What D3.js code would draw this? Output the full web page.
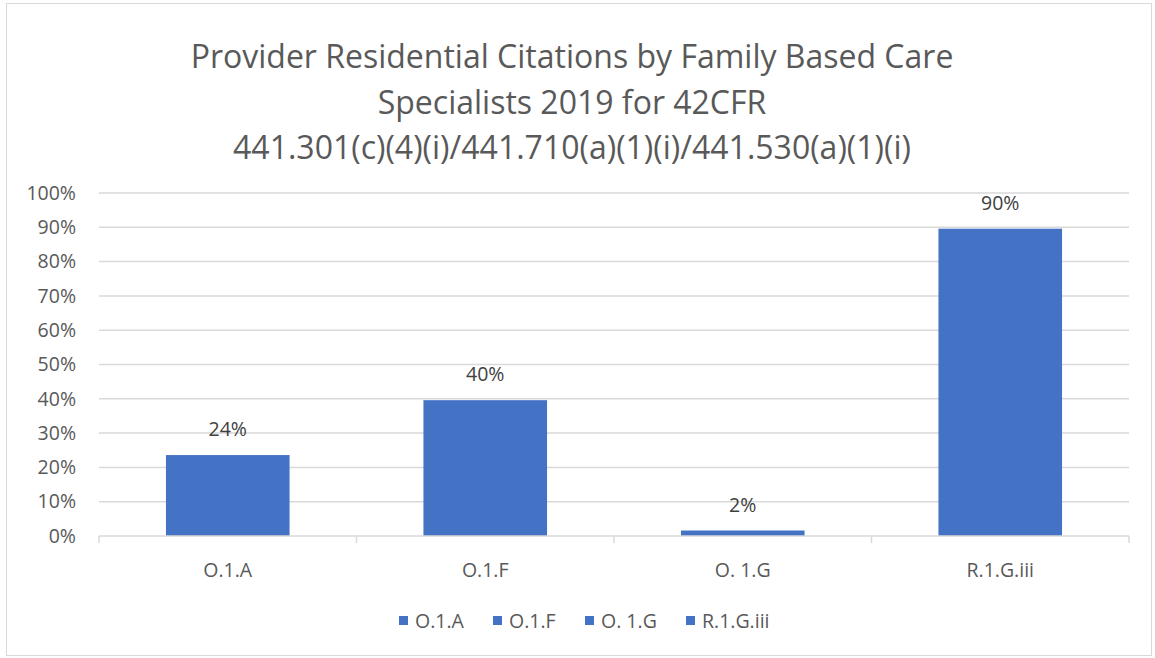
<!DOCTYPE html>
<html>
<head>
<meta charset="utf-8">
<script src="https://cdn.jsdelivr.net/npm/d3@7"></script>
<style>
  body { margin: 0; background: #fff; }
  svg { display: block; font-family: "Open Sans", "Noto Sans", sans-serif; }
</style>
</head>
<body>
<div id="chart"></div>
<script>
const categories = ["O.1.A", "O.1.F", "O. 1.G", "R.1.G.iii"]
const values = [0.236, 0.396, 0.016, 0.896]
const yTicks = [0, 0.1, 0.2, 0.3, 0.4, 0.5, 0.6, 0.7, 0.8, 0.9, 1.0]
const titleLines = [
  "Provider Residential Citations by Family Based Care",
  "Specialists 2019 for 42CFR",
  "441.301(c)(4)(i)/441.710(a)(1)(i)/441.530(a)(1)(i)"
]

const width = 1155
const height = 658
const margin = { top: 193, right: 26, bottom: 122, left: 99 }
const barColor = "#4472C4"

const svg = d3.select("#chart")
  .append("svg")
  .attr("width", width)
  .attr("height", height)

// chart frame
svg.append("rect")
  .attr("x", 6.5).attr("y", 3.5)
  .attr("width", width - 10).attr("height", height - 6)
  .attr("fill", "#fff")
  .attr("stroke", "#d9d9d9")
  .attr("stroke-width", 1)

// title
svg.append("g")
  .selectAll("text")
  .data(titleLines)
  .join("text")
  .attr("x", 572)
  .attr("y", (d, i) => 68 + i * 45.5)
  .attr("text-anchor", "middle")
  .attr("font-size", "32px")
  .attr("fill", "#595959")
  .text(d => d)

const x = d3.scaleBand()
  .domain(categories)
  .range([margin.left, width - margin.right])
  .paddingInner(0.52)
  .paddingOuter(0.26)

const y = d3.scaleLinear()
  .domain([0, 1])
  .range([height - margin.bottom, margin.top])

// gridlines
svg.append("g")
  .selectAll("line")
  .data(yTicks.slice(1))
  .join("line")
  .attr("x1", margin.left)
  .attr("x2", width - margin.right)
  .attr("y1", d => y(d))
  .attr("y2", d => y(d))
  .attr("stroke", "#d9d9d9")
  .attr("stroke-width", 1.5)

// y axis labels
const yAxis = d3.axisLeft(y)
  .tickValues(yTicks)
  .tickFormat(d3.format(".0%"))
  .tickSize(0)
  .tickPadding(23)

svg.append("g")
  .attr("transform", `translate(${margin.left},0)`)
  .call(yAxis)
  .call(g => g.select(".domain").remove())
  .call(g => g.selectAll("text")
    .attr("font-size", "19.5px")
    .attr("font-family", "'Open Sans', 'Noto Sans', sans-serif")
    .attr("fill", "#595959"))

// bars
svg.append("g")
  .selectAll("rect")
  .data(values)
  .join("rect")
  .attr("x", (d, i) => x(categories[i]))
  .attr("y", d => y(d))
  .attr("width", x.bandwidth())
  .attr("height", d => y(0) - y(d))
  .attr("fill", barColor)

// value labels
svg.append("g")
  .selectAll("text")
  .data(values)
  .join("text")
  .attr("x", (d, i) => x(categories[i]) + x.bandwidth() / 2)
  .attr("y", d => y(d) - 19)
  .attr("text-anchor", "middle")
  .attr("font-size", "19.5px")
  .attr("fill", "#404040")
  .text(d => d3.format(".0%")(d))

// x axis
const xOuter = d3.scalePoint()
  .domain(d3.range(categories.length + 1))
  .range([margin.left, width - margin.right])

const baseY = y(0)
svg.append("line")
  .attr("x1", margin.left)
  .attr("x2", width - margin.right)
  .attr("y1", baseY)
  .attr("y2", baseY)
  .attr("stroke", "#d9d9d9")
  .attr("stroke-width", 1.5)

svg.append("g")
  .selectAll("line")
  .data(xOuter.domain())
  .join("line")
  .attr("x1", d => xOuter(d))
  .attr("x2", d => xOuter(d))
  .attr("y1", baseY)
  .attr("y2", baseY + 7)
  .attr("stroke", "#d9d9d9")
  .attr("stroke-width", 1.5)

svg.append("g")
  .selectAll("text")
  .data(categories)
  .join("text")
  .attr("x", d => x(d) + x.bandwidth() / 2)
  .attr("y", baseY + 41)
  .attr("text-anchor", "middle")
  .attr("font-size", "19.5px")
  .attr("fill", "#595959")
  .text(d => d)

// legend
const legendX = [399, 493, 585, 686]
const legend = svg.append("g")
  .selectAll("g")
  .data(categories)
  .join("g")
  .attr("transform", (d, i) => `translate(${legendX[i]},621)`)

legend.append("rect")
  .attr("x", 0).attr("y", -5)
  .attr("width", 9).attr("height", 9)
  .attr("fill", barColor)

legend.append("text")
  .attr("x", 16)
  .attr("y", 7)
  .attr("font-size", "19.5px")
  .attr("fill", "#595959")
  .text(d => d)
</script>
</body>
</html>
